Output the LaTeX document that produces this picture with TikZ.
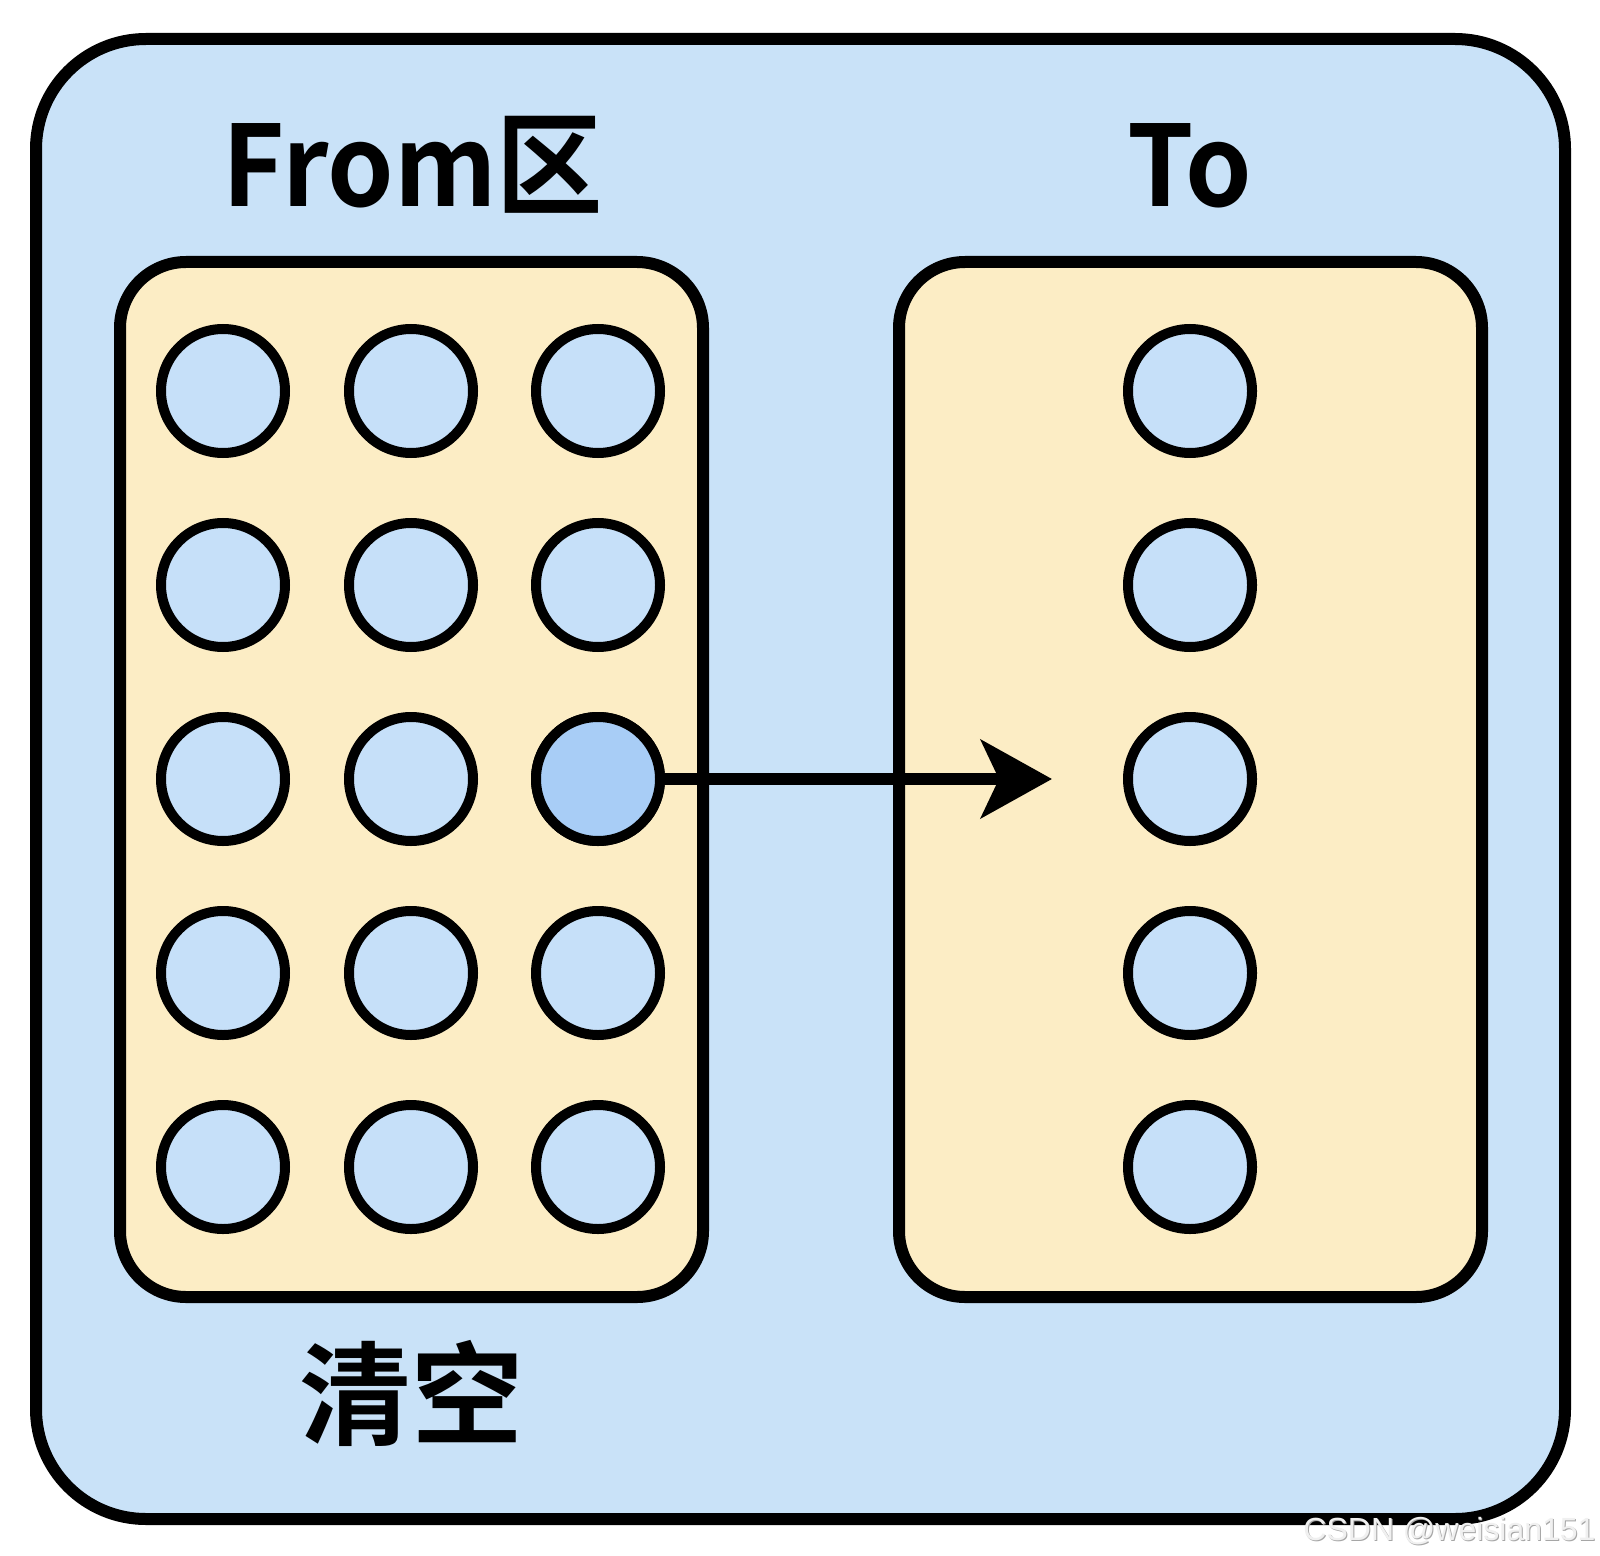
\documentclass[tikz,border=0pt]{standalone}
\usepackage{fontspec}
\setmainfont{Noto Sans CJK SC}[BoldFont=* Bold]
\newfontfamily\wmfont{Liberation Sans}
\usetikzlibrary{arrows.meta}
\definecolor{outerblue}{RGB}{201,226,248}
\definecolor{cream}{RGB}{252,237,197}
\definecolor{cellblue}{RGB}{198,224,249}
\definecolor{hiblue}{RGB}{168,205,246}
\begin{document}
\begin{tikzpicture}[x=0.5pt,y=-0.5pt,
  outerbox/.style={rectangle, draw=black, line width=6pt, rounded corners=55pt, fill=outerblue, inner sep=0pt},
  panel/.style={rectangle, draw=black, line width=6pt, rounded corners=33pt, fill=cream, inner sep=0pt, minimum width=291.5pt, minimum height=517.5pt},
  cell/.style={circle, draw=black, line width=5pt, fill=cellblue, minimum size=62pt, inner sep=0pt},
  title/.style={font=\fontsize{56}{60}\selectfont\bfseries, text=black, inner sep=0pt},
  wmtext/.style={font=\wmfont\fontsize{16}{18}\selectfont, inner sep=0pt, anchor=base east}]
\useasboundingbox (0,0) rectangle (1600,1556);
\fill[white] (0,0) rectangle (1600,1556);
\node[outerbox, minimum width=764.5pt, minimum height=740pt] (outer) at (800.5,779) {};
\node[panel] (fromzone) at (411.5,779.5) {};
\node[panel] (tozone) at (1190.5,779.5) {};
\node[title, anchor=base] (fromlabel) at (413,207) {\scalebox{0.95}[1]{From区}};
\node[title, anchor=base] (tolabel) at (1190,207) {\scalebox{0.95}[1]{To}};
\node[title, anchor=center] (clear) at (411,1393) {清空};
\foreach \r/\y in {1/391,2/585,3/779,4/973,5/1167}{
  \foreach \c/\x in {1/223,2/411,3/598}{
    \node[cell] (f\r\c) at (\x,\y) {};
  }
  \node[cell] (t\r) at (1190,\y) {};
}
\node[cell, fill=hiblue] (f33) at (598,779) {};
\coordinate (tip) at (1052,779);
\draw[line width=6pt, -{Stealth[length=35.5pt, width=39pt, inset=9pt]}] (f33.east) -- (tip);
\node[wmtext, text=gray!70] (wmshadow) at (1597,1541) {CSDN @weisian151};
\node[wmtext, text=gray!12] (wm) at (1596,1540) {CSDN @weisian151};
\end{tikzpicture}
\end{document}
